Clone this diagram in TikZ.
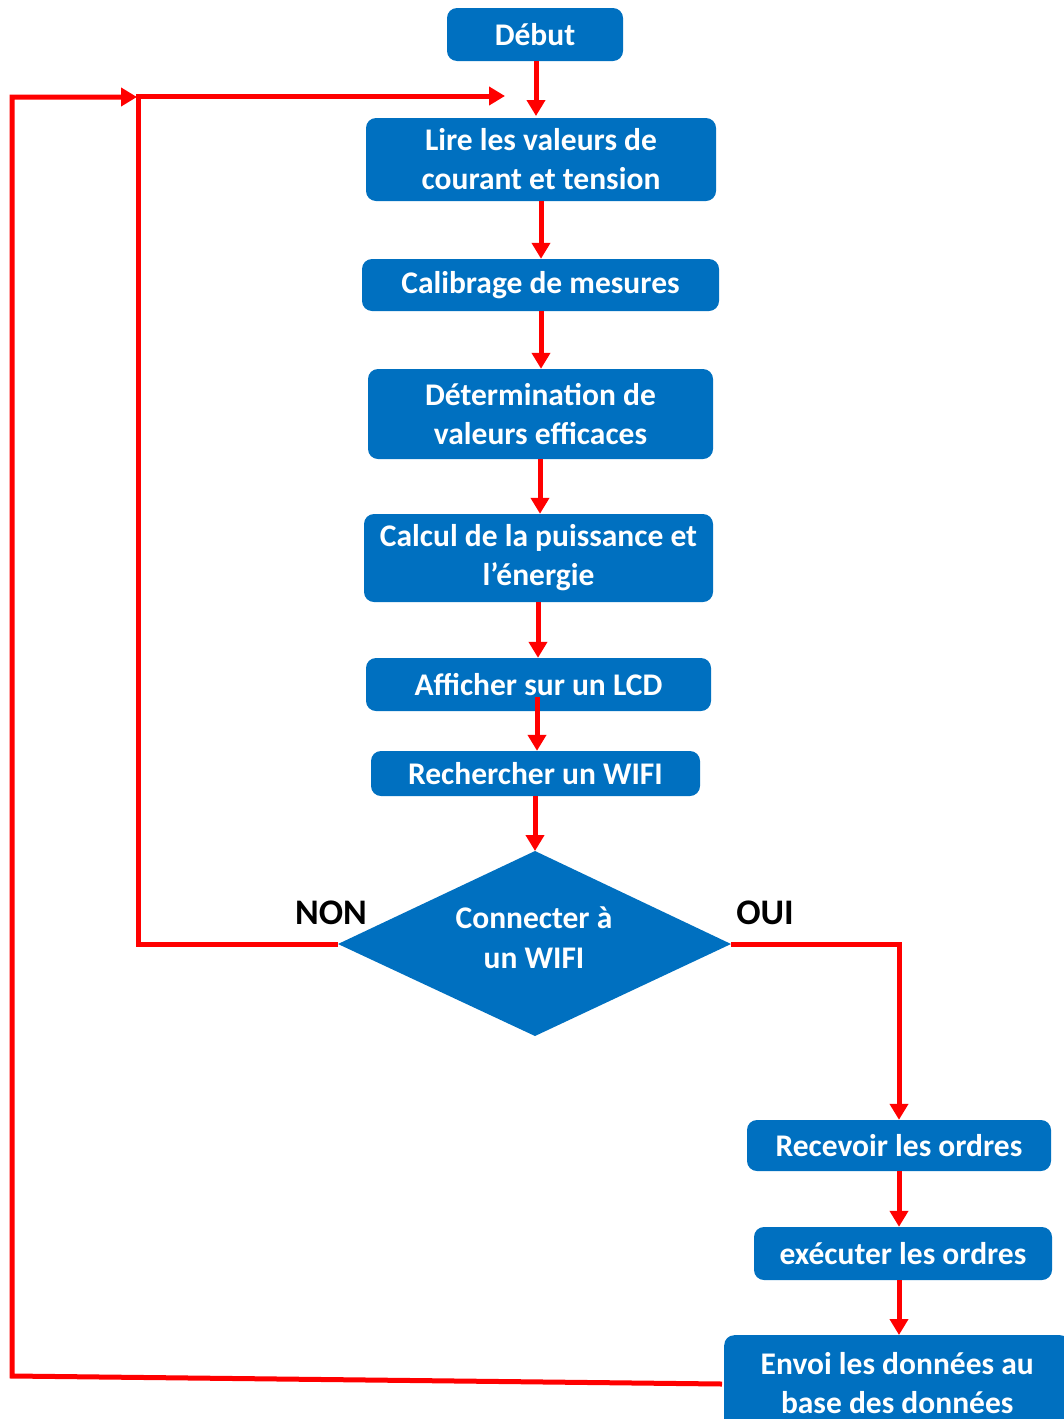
\documentclass[tikz,border=0pt]{standalone}
\usepackage{fontspec}
\setmainfont{Carlito}
\usetikzlibrary{arrows.meta}
\definecolor{boxblue}{HTML}{0070C0}
\definecolor{arrred}{HTML}{FF0000}
\tikzset{
  stepbox/.style={fill=boxblue, rounded corners=10pt, text=white, align=center, inner sep=0pt,
    font=\bfseries\fontsize{31.5}{39}\selectfont},
  arr/.style={draw=arrred, line width=5pt, -{Triangle[length=16pt,width=18pt]}},
  lbl/.style={font=\bfseries\fontsize{36}{40}\selectfont, text=black, inner sep=0pt}
}
\begin{document}
\begin{tikzpicture}[x=1pt,y=-1pt]
\useasboundingbox (0,0) rectangle (1064,1419);
\node[stepbox, minimum width=176pt, minimum height=53pt] (debut) at (535,34.5) {Début};
\node[stepbox, minimum width=350pt, minimum height=83pt] (lire) at (541,159.5) {Lire les valeurs de\\courant et tension};
\node[stepbox, minimum width=357pt, minimum height=52pt] (calib) at (540.5,285) {Calibrage de mesures};
\node[stepbox, minimum width=345pt, minimum height=90pt] (determ) at (540.5,414) {Détermination de\\valeurs efficaces};
\node[stepbox, minimum width=349pt, minimum height=88pt] (calcul) at (538.5,558) {Calcul de la puissance et\\l’énergie};
\node[stepbox, minimum width=345pt, minimum height=53pt] (aff) at (538.5,684.5) {Afficher sur un LCD};
\node[stepbox, minimum width=329pt, minimum height=45pt] (rech) at (535.5,773.5) {Rechercher un WIFI};
% decision diamond
\coordinate (wtop) at (535,851);
\coordinate (wleft) at (338,944);
\coordinate (wright) at (731,944);
\coordinate (wbot) at (535,1036);
\fill[boxblue] (wtop) -- (wright) -- (wbot) -- (wleft) -- cycle;
\node[text=white, align=center, inner sep=0pt, font=\bfseries\fontsize{31.5}{40}\selectfont] (wifi) at (534,938) {Connecter à\\un WIFI};
\node[stepbox, minimum width=304pt, minimum height=51pt] (recv) at (899,1145.5) {Recevoir les ordres};
\node[stepbox, minimum width=298pt, minimum height=53pt] (exec) at (903,1253.5) {exécuter les ordres};
\node[stepbox, minimum width=346pt, minimum height=96pt, anchor=north west] (envoi) at (724,1335) {Envoi les données au\\base des données};
\node[lbl] (non) at (331,913) {NON};
\node[lbl] (oui) at (765,913) {OUI};
% coordinates
\coordinate (topin) at (505,96);
\coordinate (nonx) at (138,944);
\coordinate (nonup) at (138,96);
\coordinate (outy) at (137,97);
\coordinate (outl) at (12,1376);
\coordinate (outlt) at (12,97);
\coordinate (ouix) at (899,944);
\coordinate (affstart) at (537,697);
\coordinate (envl) at (722,1384);
% arrows
\draw[arr] (debut.south -| 536,0) -- (536,116);
\draw[arr] (lire.south -| 541,0) -- (calib.north -| 541,0);
\draw[arr] (calib.south -| 541,0) -- (determ.north -| 541,0);
\draw[arr] (determ.south -| 540,0) -- (calcul.north -| 540,0);
\draw[arr] (calcul.south -| 538,0) -- (aff.north -| 538,0);
\draw[arr] (affstart) -- (rech.north -| affstart);
\draw[arr] (rech.south -| 535,0) -- (wtop);
\draw[arr, line join=miter] (wleft) -- (nonx) -- (nonup) -- (topin);
\draw[arr, line join=miter] (wright) -- (ouix) -- (recv.north -| ouix);
\draw[arr] (recv.south -| 899,0) -- (exec.north -| 899,0);
\draw[arr] (exec.south -| 899,0) -- (envoi.north -| 899,0);
\draw[arr, line join=miter] (envl) -- (outl) -- (outlt) -- (outy);
\end{tikzpicture}
\end{document}
